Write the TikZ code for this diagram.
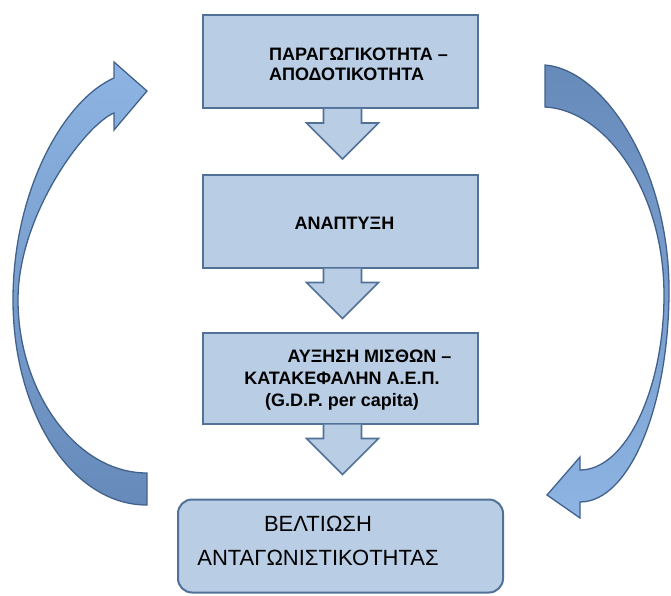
\documentclass[tikz,border=0pt]{standalone}
\usepackage{fontspec}
\setmainfont{Liberation Sans}
\usetikzlibrary{arrows.meta,positioning,calc}
\definecolor{boxfill}{RGB}{185,205,228}
\definecolor{boxline}{RGB}{82,113,152}
\definecolor{arrlight}{RGB}{141,180,226}
\definecolor{arrdark}{RGB}{102,138,186}
\definecolor{arrline}{RGB}{66,98,140}
\tikzset{
  stepbox/.style={draw=boxline,line width=2pt,fill=boxfill,minimum width=275pt,minimum height=93pt,inner sep=0pt},
  boxtext/.style={font=\fontsize{18}{20}\selectfont\bfseries,align=left,inner sep=0pt},
  downarrow/.style={draw=boxline,line width=1.6pt,fill=boxfill,line join=miter},
  looparrow/.style={draw=arrline,line width=1.3pt,line join=miter}
}

\begin{document}
\begin{tikzpicture}[x=1pt,y=-1pt]
\useasboundingbox (0,0) rectangle (671,596);
% boxes
\node[stepbox] (prod) at (340.5,61.5) {};
\node[stepbox] (anapt) at (340.5,221) {};
\node[stepbox,minimum height=91pt] (misth) at (340.5,378) {};
\node[stepbox,rounded corners=14pt,minimum width=325pt,minimum height=93pt] (antag) at (340.5,546) {};
% texts
\node[boxtext,anchor=west] (prodtxt) at ($(prod.west)+(67,2.5)$) {ΠΑΡΑΓΩΓΙΚΟΤΗΤΑ –\\ΑΠΟΔΟΤΙΚΟΤΗΤΑ};
\node[boxtext] (anapttxt) at ($(anapt.center)+(4,2)$) {ΑΝΑΠΤΥΞΗ};
\node[boxtext,font=\fontsize{18}{22}\selectfont\bfseries,align=center] (misthtxt) at ($(misth.center)+(1.5,2)$) {\hspace*{55pt}ΑΥΞΗΣΗ ΜΙΣΘΩΝ –\\ΚΑΤΑΚΕΦΑΛΗΝ Α.Ε.Π.\\(G.D.P. per capita)};
\node[font=\fontsize{22}{34}\selectfont,align=center,inner sep=0pt] (antagtxt) at ($(antag.center)+(-22.5,-5)$) {ΒΕΛΤΙΩΣΗ\\ΑΝΤΑΓΩΝΙΣΤΙΚΟΤΗΤΑΣ};
% down arrows
\foreach \a in {prod,anapt,misth}{
  \draw[downarrow] ($(\a.south)+(-17,0)$) -- ++(0,14) -- ++(-17,0) -- ($(\a.south)+(2,50)$) -- ($(\a.south)+(38,14)$) -- ++(-17,0) -- ($(\a.south)+(21,0)$);
}
% loop arrows
\draw[looparrow,top color=arrlight,bottom color=arrdark] (147,473) .. controls (75,473) and (18,390) .. (18,300) .. controls (18,215) and (85,125) .. (114,113) -- (114,130) -- (147,91) -- (114,62) -- (114,78) .. controls (64,100) and (13,190) .. (13,300) .. controls (13,410) and (70,505) .. (147,505) -- cycle;
\draw[looparrow,top color=arrdark,bottom color=arrlight] (545,65) .. controls (605,70) and (669,170) .. (669,290) .. controls (669,405) and (630,502) .. (580,502) -- (580,518) -- (547,495) -- (580,457) -- (580,470) .. controls (626,470) and (664,389) .. (664,295) .. controls (664,190) and (605,110) .. (545,107) -- cycle;
\end{tikzpicture}
\end{document}
